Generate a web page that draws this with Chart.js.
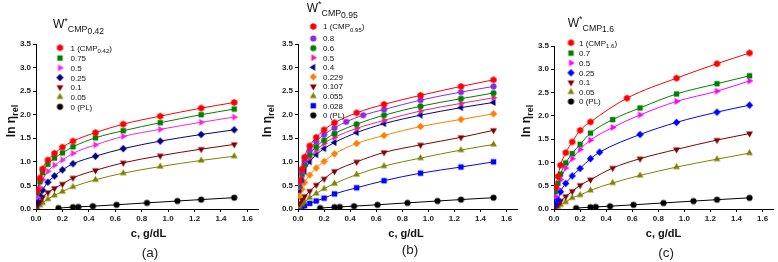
<!DOCTYPE html>
<html><head><meta charset="utf-8">
<script src="https://cdn.jsdelivr.net/npm/chart.js@4.4.1/dist/chart.umd.min.js"></script>
<style>
html,body{margin:0;padding:0;background:#fff;}
#wrap{position:relative;width:778px;height:262px;overflow:hidden;background:#fff;}
canvas{position:absolute;left:0;top:0;}
</style></head><body>
<div id="wrap">
<canvas id="ca" width="778" height="262"></canvas>
<canvas id="cb" width="778" height="262"></canvas>
<canvas id="cc" width="778" height="262"></canvas>
</div>
<script>
// ---------- data ----------
const xTicks = [0, 0.2, 0.4, 0.6, 0.8, 1.0, 1.2, 1.4, 1.6];
const yTicks = [0, 0.5, 1.0, 1.5, 2.0, 2.5, 3.0, 3.5];

const cPL = [0.17, 0.28, 0.32, 0.43, 0.61, 0.84, 1.07, 1.25, 1.5];
const yPL = [0.02, 0.04, 0.045, 0.06, 0.09, 0.13, 0.17, 0.20, 0.24];

// panel (a)
const cA = [0.01, 0.03, 0.05, 0.09, 0.14, 0.2, 0.28, 0.45, 0.66, 0.94, 1.25, 1.5];
const a_1   = [0.40, 0.66, 0.85, 1.04, 1.18, 1.31, 1.44, 1.62, 1.80, 1.97, 2.14, 2.26];
const a_075 = [0.35, 0.58, 0.77, 0.95, 1.08, 1.19, 1.32, 1.51, 1.66, 1.83, 2.00, 2.12];
const a_05  = [0.25, 0.45, 0.62, 0.80, 0.93, 1.04, 1.18, 1.36, 1.54, 1.69, 1.84, 1.95];
const a_025 = [0.15, 0.28, 0.40, 0.57, 0.70, 0.83, 0.96, 1.12, 1.28, 1.44, 1.58, 1.68];
const a_01  = [0.07, 0.16, 0.25, 0.35, 0.44, 0.53, 0.66, 0.82, 0.98, 1.13, 1.27, 1.37];
const a_005 = [0.03, 0.08, 0.13, 0.21, 0.29, 0.37, 0.47, 0.62, 0.76, 0.90, 1.03, 1.12];
const labelsA = ['1 (CMP{0.42})', '0.75', '0.5', '0.25', '0.1', '0.05', '0 (PL)'];

// panel (b)
const cB  = [0.01, 0.03, 0.05, 0.09, 0.14, 0.2, 0.28, 0.45, 0.66, 0.94, 1.25, 1.5];
const cB8 = [0.01, 0.03, 0.05, 0.09, 0.14, 0.2, 0.28, 0.37, 0.5, 0.66, 0.94, 1.25, 1.5];
const b_1    = [0.60, 0.85, 1.10, 1.34, 1.52, 1.68, 1.83, 2.04, 2.22, 2.41, 2.60, 2.74];
const b_08   = [0.55, 0.80, 1.02, 1.25, 1.43, 1.58, 1.72, 1.85, 1.99, 2.11, 2.31, 2.48, 2.60];
const b_06   = [0.50, 0.75, 0.95, 1.16, 1.32, 1.46, 1.60, 1.80, 1.99, 2.18, 2.34, 2.46];
const b_05   = [0.45, 0.70, 0.90, 1.09, 1.25, 1.39, 1.52, 1.71, 1.88, 2.08, 2.24, 2.36];
const b_04   = [0.40, 0.62, 0.80, 1.00, 1.15, 1.28, 1.41, 1.62, 1.81, 1.99, 2.15, 2.26];
const b_0229 = [0.28, 0.42, 0.56, 0.72, 0.87, 1.01, 1.17, 1.39, 1.56, 1.75, 1.90, 2.02];
const b_0107 = [0.12, 0.20, 0.27, 0.38, 0.51, 0.64, 0.80, 1.00, 1.20, 1.36, 1.52, 1.67];
const b_0055 = [0.05, 0.10, 0.15, 0.24, 0.33, 0.43, 0.54, 0.73, 0.91, 1.08, 1.25, 1.37];
const b_0028 = [0.02, 0.04, 0.07, 0.12, 0.17, 0.23, 0.32, 0.45, 0.60, 0.76, 0.89, 1.00];
const labelsB = ['1 (CMP{0.95})', '0.8', '0.6', '0.5', '0.4', '0.229', '0.107', '0.055', '0.028', '0 (PL)'];

// panel (c)
const cC   = [0.01, 0.03, 0.05, 0.09, 0.14, 0.2, 0.28, 0.45, 0.66, 0.94, 1.25, 1.5];
const cC1  = [0.01, 0.03, 0.05, 0.09, 0.14, 0.2, 0.28, 0.56, 0.94, 1.25, 1.5];
const cC25 = [0.01, 0.03, 0.05, 0.09, 0.14, 0.2, 0.28, 0.35, 0.66, 0.94, 1.25, 1.5];
const c_1   = [0.47, 0.70, 0.94, 1.21, 1.44, 1.69, 1.87, 2.38, 2.81, 3.12, 3.35];
const c_07  = [0.37, 0.55, 0.75, 0.99, 1.19, 1.39, 1.63, 1.92, 2.17, 2.47, 2.69, 2.86];
const c_05  = [0.27, 0.44, 0.63, 0.88, 1.08, 1.28, 1.48, 1.75, 2.02, 2.31, 2.53, 2.75];
const c_025 = [0.11, 0.20, 0.37, 0.55, 0.71, 0.87, 1.08, 1.22, 1.60, 1.86, 2.08, 2.23];
const c_01  = [0.04, 0.09, 0.17, 0.27, 0.38, 0.51, 0.63, 0.88, 1.08, 1.28, 1.48, 1.62];
const c_005 = [0.02, 0.05, 0.09, 0.15, 0.24, 0.30, 0.40, 0.56, 0.72, 0.90, 1.07, 1.20];
const labelsC = ['1 (CMP{1.6})', '0.7', '0.5', '0.25', '0.1', '0.05', '0 (PL)'];

// ---------- drawing helpers ----------
const FONT = 'Liberation Sans, Arial, Helvetica, sans-serif';
Chart.defaults.font.family = FONT;

function marker(shape, color) {
  const s = 11, c = s / 2;
  const cv = document.createElement('canvas'); cv.width = s; cv.height = s;
  const g = cv.getContext('2d'); g.fillStyle = color; g.beginPath();
  const poly = (n, r, a0) => {
    for (let i = 0; i < n; i++) {
      const a = a0 + i * 2 * Math.PI / n;
      const px = c + r * Math.cos(a), py = c + r * Math.sin(a);
      if (i) g.lineTo(px, py); else g.moveTo(px, py);
    }
    g.closePath();
  };
  switch (shape) {
    case 'circle': g.arc(c, c, 3.1, 0, 2 * Math.PI); break;
    case 'square': g.rect(c - 2.7, c - 2.7, 5.4, 5.4); break;
    case 'hex': poly(6, 3.6, -Math.PI / 2); break;
    case 'up': poly(3, 3.9, -Math.PI / 2); break;
    case 'down': poly(3, 3.9, Math.PI / 2); break;
    case 'left': poly(3, 3.9, Math.PI); break;
    case 'right': poly(3, 3.9, 0); break;
    case 'diamond': poly(4, 3.7, 0); break;
  }
  g.fill();
  return cv;
}

function drawRich(ctx, parts, x, y, align) {
  let w = 0;
  parts.forEach(p => { ctx.font = p.font; p.w = ctx.measureText(p.t).width; w += p.w; });
  let cx = align === 'center' ? x - w / 2 : x;
  parts.forEach(p => { ctx.font = p.font; ctx.fillText(p.t, cx, y + (p.dy || 0)); cx += p.w; });
}

function labelParts(label) {
  const m = label.match(/^(.*)\{(.*)\}(.*)$/);
  const main = '8px ' + FONT, sub = '6px ' + FONT;
  if (!m) return [{ t: label, font: main }];
  return [{ t: m[1], font: main }, { t: m[2], font: sub, dy: 2.2 }, { t: m[3], font: main }];
}

function makeDeco(P) {
  return {
    id: 'deco_' + P.id,
    afterDraw(chart) {
      const ctx = chart.ctx;
      ctx.save();
      ctx.fillStyle = '#111';
      ctx.textAlign = 'left';
      ctx.textBaseline = 'alphabetic';
      const T = P.title;
      drawRich(ctx, [
        { t: 'W', font: '12px ' + FONT },
        { t: '*', font: '9px ' + FONT, dy: -4.5 },
        { t: 'CMP', font: '8.8px ' + FONT, dy: T.d1 },
        { t: T.sub, font: '8.6px ' + FONT, dy: T.d2 }
      ], T.x, T.y, 'left');
      const L = P.legend;
      P.series.forEach((s, i) => {
        const ry = L.rows[i];
        const img = s.img;
        ctx.drawImage(img, L.mx - img.width / 2, ry - img.height / 2);
        ctx.fillStyle = '#111';
        drawRich(ctx, labelParts(s.label), L.tx, ry + 2.9, 'left');
      });
      ctx.save();
      ctx.translate(P.ylab.x, P.ylab.y);
      ctx.rotate(-Math.PI / 2);
      drawRich(ctx, [
        { t: 'ln \u03b7', font: 'bold 12px ' + FONT },
        { t: 'rel', font: 'bold 9px ' + FONT, dy: 3 }
      ], 0, 0, 'center');
      ctx.restore();
      drawRich(ctx, [{ t: 'c, g/dL', font: 'bold 11px ' + FONT }], P.xlab.x, P.xlab.y, 'center');
      ctx.fillStyle = '#222';
      drawRich(ctx, [{ t: P.letter.t, font: '13.5px ' + FONT }], P.letter.x, P.letter.y, 'center');
      ctx.restore();
    }
  };
}

function build(P) {
  P.series.forEach(s => { s.img = marker(s.shape, s.color); });
  const tickFont = { size: 8, weight: 'bold', family: FONT };
  const chart = new Chart(document.getElementById(P.id), {
    type: 'scatter',
    data: {
      datasets: P.series.map(s => ({
        label: s.label,
        data: s.x.map((x, i) => ({ x: x, y: s.y[i] })),
        showLine: true,
        borderColor: s.color,
        backgroundColor: s.color,
        borderWidth: 1,
        pointStyle: s.img,
        pointRadius: 4,
        pointHoverRadius: 4,
        cubicInterpolationMode: 'monotone',
        fill: false
      }))
    },
    options: {
      responsive: false, animation: false, devicePixelRatio: 1,
      layout: { padding: { left: 0, right: 0, top: 0, bottom: 0 } },
      plugins: { legend: { display: false }, tooltip: { enabled: false } },
      scales: {
        x: {
          type: 'linear', min: 0, max: 1.68,
          afterBuildTicks: sc => { sc.ticks = xTicks.map(v => ({ value: v })); },
          afterFit: sc => { sc.height = 18; },
          ticks: { callback: v => Number(v).toFixed(1), font: tickFont, color: '#222', padding: 2, maxRotation: 0, autoSkip: false },
          grid: { display: true, drawOnChartArea: false, drawTicks: true, tickLength: 3, tickColor: '#000', lineWidth: 1 },
          border: { display: true, color: '#000', width: 1 }
        },
        y: {
          type: 'linear', min: 0, max: 3.5,
          afterBuildTicks: sc => { sc.ticks = yTicks.map(v => ({ value: v })); },
          afterFit: sc => { sc.width = 30; },
          ticks: { callback: v => Number(v).toFixed(1), font: tickFont, color: '#222', padding: 2, autoSkip: false },
          grid: { display: true, drawOnChartArea: false, drawTicks: true, tickLength: 3, tickColor: '#000', lineWidth: 1 },
          border: { display: true, color: '#000', width: 1 }
        }
      }
    },
    plugins: [makeDeco(P)]
  });
  const pad = { left: 0, right: 0, top: 0, bottom: 0 };
  for (let k = 0; k < 4; k++) {
    const a = chart.chartArea;
    pad.left += P.area.left - a.left;
    pad.right += a.right - P.area.right;
    pad.top += P.area.top - a.top;
    pad.bottom += a.bottom - P.area.bottom;
    chart.config.options.layout.padding = { left: pad.left, right: pad.right, top: pad.top, bottom: pad.bottom };
    chart.update();
  }
  return chart;
}

const panels = [
  {
    id: 'ca', area: { left: 36, right: 258, top: 44, bottom: 209 },
    title: { x: 53, y: 28.3, sub: '0.42', d1: 4, d2: 5.7 },
    legend: { mx: 60, tx: 70.5, rows: [47.7, 58.1, 67.9, 77.6, 87.2, 96.9, 106.7] },
    ylab: { x: 15, y: 121 }, xlab: { x: 148.5, y: 237 }, letter: { t: '(a)', x: 150, y: 257 },
    series: [
      { label: labelsA[0], x: cA, y: a_1,   color: '#ff0000', shape: 'hex' },
      { label: labelsA[1], x: cA, y: a_075, color: '#008000', shape: 'square' },
      { label: labelsA[2], x: cA, y: a_05,  color: '#ff22dd', shape: 'right' },
      { label: labelsA[3], x: cA, y: a_025, color: '#00008b', shape: 'diamond' },
      { label: labelsA[4], x: cA, y: a_01,  color: '#800000', shape: 'down' },
      { label: labelsA[5], x: cA, y: a_005, color: '#808000', shape: 'up' },
      { label: labelsA[6], x: cPL, y: yPL,  color: '#000000', shape: 'circle' }
    ]
  },
  {
    id: 'cb', area: { left: 298, right: 517, top: 44, bottom: 209 },
    title: { x: 306.7, y: 11.7, sub: '0.95', d1: 4.5, d2: 5.8 },
    legend: { mx: 313.3, tx: 323, rows: [26.5, 38.5, 48.1, 57.7, 67.3, 76.9, 86.5, 96.1, 105.7, 115.3] },
    ylab: { x: 271, y: 121 }, xlab: { x: 406, y: 237 }, letter: { t: '(b)', x: 410, y: 254 },
    series: [
      { label: labelsB[0], x: cB,  y: b_1,    color: '#ff0000', shape: 'hex' },
      { label: labelsB[1], x: cB8, y: b_08,   color: '#8a2be2', shape: 'circle' },
      { label: labelsB[2], x: cB,  y: b_06,   color: '#008000', shape: 'circle' },
      { label: labelsB[3], x: cB,  y: b_05,   color: '#e8248c', shape: 'right' },
      { label: labelsB[4], x: cB,  y: b_04,   color: '#00008b', shape: 'left' },
      { label: labelsB[5], x: cB,  y: b_0229, color: '#ff8000', shape: 'diamond' },
      { label: labelsB[6], x: cB,  y: b_0107, color: '#800000', shape: 'down' },
      { label: labelsB[7], x: cB,  y: b_0055, color: '#808000', shape: 'up' },
      { label: labelsB[8], x: cB,  y: b_0028, color: '#0000ff', shape: 'square' },
      { label: labelsB[9], x: cPL, y: yPL,    color: '#000000', shape: 'circle' }
    ]
  },
  {
    id: 'cc', area: { left: 554, right: 772, top: 46, bottom: 209 },
    title: { x: 567.7, y: 26.7, sub: '1.6', d1: 4, d2: 5.5 },
    legend: { mx: 571, tx: 579, rows: [42.7, 53.1, 62.9, 72.8, 82.5, 92, 101.5] },
    ylab: { x: 530, y: 121 }, xlab: { x: 663.5, y: 237 }, letter: { t: '(c)', x: 666, y: 257 },
    series: [
      { label: labelsC[0], x: cC1,  y: c_1,   color: '#ff0000', shape: 'hex' },
      { label: labelsC[1], x: cC,   y: c_07,  color: '#008000', shape: 'square' },
      { label: labelsC[2], x: cC,   y: c_05,  color: '#ff00ff', shape: 'right' },
      { label: labelsC[3], x: cC25, y: c_025, color: '#0000ff', shape: 'diamond' },
      { label: labelsC[4], x: cC,   y: c_01,  color: '#800000', shape: 'down' },
      { label: labelsC[5], x: cC,   y: c_005, color: '#808000', shape: 'up' },
      { label: labelsC[6], x: cPL,  y: yPL,   color: '#000000', shape: 'circle' }
    ]
  }
];

panels.forEach(build);
</script>
</body></html>
